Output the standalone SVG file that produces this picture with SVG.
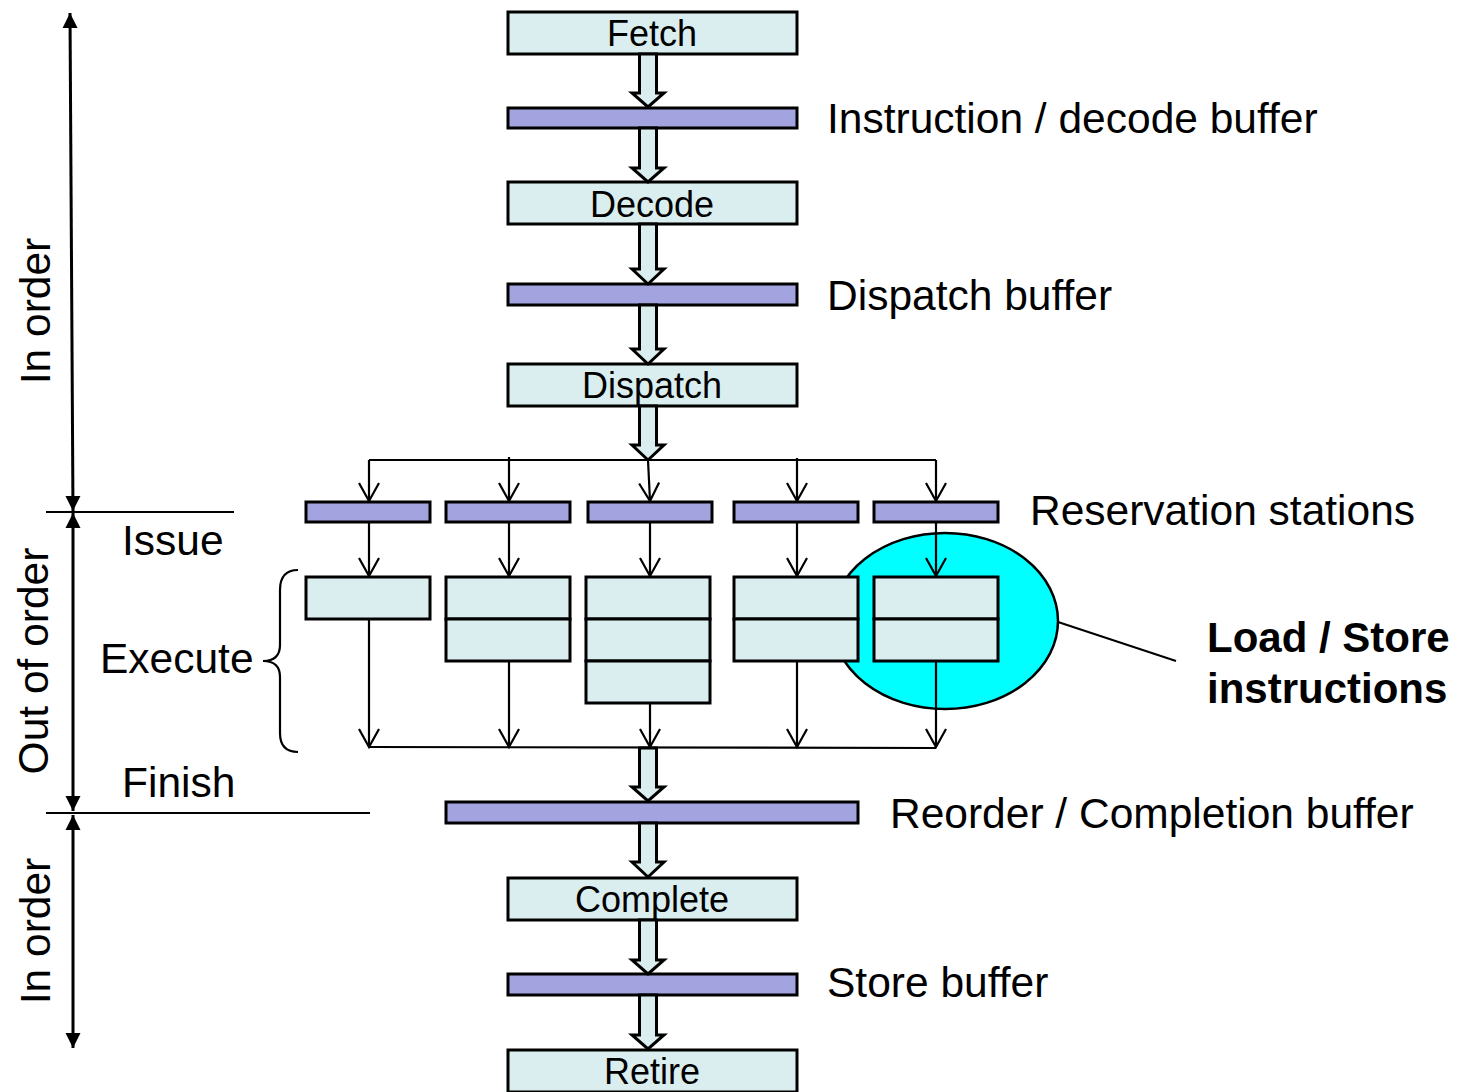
<svg xmlns="http://www.w3.org/2000/svg" width="1459" height="1092" viewBox="0 0 1459 1092">
<style>
text{font-family:"Liberation Sans",Arial,sans-serif;fill:#000}
.box{fill:#DAEDEF;stroke:#000;stroke-width:3}
.buf{fill:#A3A3DF;stroke:#000;stroke-width:3}
.big{stroke:#000;stroke-width:3;fill:#DAEDEF;stroke-linejoin:miter}
.ln{stroke:#000;stroke-width:2.2;fill:none}
.dim{stroke:#000;stroke-width:3;fill:none}
.t36{font-size:36px;text-anchor:middle}
.t42{font-size:42.5px}
.bold{font-size:42px;font-weight:bold}
</style>
<defs>
<marker id="v" markerUnits="userSpaceOnUse" markerWidth="20" markerHeight="22" refX="18" refY="10" orient="auto" overflow="visible">
<path d="M0,0 L18,10 L0,20" fill="none" stroke="#000" stroke-width="2.2"/>
</marker>
<marker id="tri" markerUnits="userSpaceOnUse" markerWidth="16" markerHeight="16" refX="15" refY="7.5" orient="auto-start-reverse" overflow="visible">
<path d="M0,0 L15,7.5 L0,15 z" fill="#000"/>
</marker>
</defs>

<rect width="1459" height="1092" fill="#fff"/>

<g id="ellipse-ls">
<ellipse cx="945" cy="621" rx="113" ry="88" fill="#00FFFF" stroke="#000" stroke-width="2.5"/>
<line x1="1058" y1="622" x2="1176" y2="661" stroke="#000" stroke-width="2"/>
</g>

<g id="fetch"><rect class="box" x="508" y="12" width="289" height="42"/><text class="t36" x="652" y="46">Fetch</text></g>
<g id="ibuf"><rect class="buf" x="508" y="108" width="289" height="20"/></g>
<g id="decode"><rect class="box" x="508" y="182" width="289" height="42"/><text class="t36" x="652" y="217">Decode</text></g>
<g id="dbuf"><rect class="buf" x="508" y="284" width="289" height="21"/></g>
<g id="dispatch"><rect class="box" x="508" y="364" width="289" height="42"/><text class="t36" x="652" y="398">Dispatch</text></g>

<g id="rs1"><rect class="buf" x="306" y="502" width="124" height="20"/></g>
<g id="rs2"><rect class="buf" x="446" y="502" width="124" height="20"/></g>
<g id="rs3"><rect class="buf" x="588" y="502" width="124" height="20"/></g>
<g id="rs4"><rect class="buf" x="734" y="502" width="124" height="20"/></g>
<g id="rs5"><rect class="buf" x="874" y="502" width="124" height="20"/></g>

<g id="ex1"><rect class="box" x="306" y="577" width="124" height="42"/></g>
<g id="ex2"><rect class="box" x="446" y="577" width="124" height="42"/><rect class="box" x="446" y="619" width="124" height="42"/></g>
<g id="ex3"><rect class="box" x="586" y="577" width="124" height="42"/><rect class="box" x="586" y="619" width="124" height="42"/><rect class="box" x="586" y="661" width="124" height="42"/></g>
<g id="ex4"><rect class="box" x="734" y="577" width="124" height="42"/><rect class="box" x="734" y="619" width="124" height="42"/></g>
<g id="ex5"><rect class="box" x="874" y="577" width="124" height="42"/><rect class="box" x="874" y="619" width="124" height="42"/></g>

<g id="rob"><rect class="buf" x="446" y="802" width="412" height="21"/></g>
<g id="complete"><rect class="box" x="508" y="878" width="289" height="42"/><text class="t36" x="652" y="912">Complete</text></g>
<g id="sbuf"><rect class="buf" x="508" y="974" width="289" height="21"/></g>
<g id="retire"><rect class="box" x="508" y="1050" width="289" height="42"/><text class="t36" x="652" y="1084">Retire</text></g>

<g id="connectors">
<polygon class="big" points="639.5,54 656.5,54 656.5,93 664,93 648,107 632,93 639.5,93"/>
<polygon class="big" points="639.5,128 656.5,128 656.5,168 664,168 648,182 632,168 639.5,168"/>
<polygon class="big" points="639.5,224 656.5,224 656.5,269 664,269 648,284 632,269 639.5,269"/>
<polygon class="big" points="639.5,305 656.5,305 656.5,349 664,349 648,364 632,349 639.5,349"/>
<polygon class="big" points="639.5,406 656.5,406 656.5,445 664,445 648,460 632,445 639.5,445"/>
<polygon class="big" points="639.5,748 656.5,748 656.5,787 664,787 648,801 632,787 639.5,787"/>
<polygon class="big" points="639.5,823 656.5,823 656.5,862 664,862 648,877 632,862 639.5,862"/>
<polygon class="big" points="639.5,920 656.5,920 656.5,960 664,960 648,974 632,960 639.5,960"/>
<polygon class="big" points="639.5,995 656.5,995 656.5,1035 664,1035 648,1049 632,1035 639.5,1035"/>
<line class="ln" x1="369" y1="460" x2="936" y2="460"/>
<line class="ln" x1="369" y1="460" x2="369" y2="501" marker-end="url(#v)"/>
<line class="ln" x1="509" y1="457" x2="509" y2="501" marker-end="url(#v)"/>
<line class="ln" x1="648" y1="460" x2="650" y2="501" marker-end="url(#v)"/>
<line class="ln" x1="797" y1="458" x2="797" y2="501" marker-end="url(#v)"/>
<line class="ln" x1="936" y1="460" x2="936" y2="501" marker-end="url(#v)"/>
<line class="ln" x1="369" y1="522" x2="369" y2="576" marker-end="url(#v)"/>
<line class="ln" x1="509" y1="522" x2="509" y2="576" marker-end="url(#v)"/>
<line class="ln" x1="650" y1="522" x2="650" y2="576" marker-end="url(#v)"/>
<line class="ln" x1="797" y1="522" x2="797" y2="576" marker-end="url(#v)"/>
<line class="ln" x1="936" y1="522" x2="936" y2="576" marker-end="url(#v)"/>
<line class="ln" x1="369" y1="619" x2="369" y2="747" marker-end="url(#v)"/>
<line class="ln" x1="509" y1="661" x2="509" y2="747" marker-end="url(#v)"/>
<line class="ln" x1="650" y1="703" x2="650" y2="747" marker-end="url(#v)"/>
<line class="ln" x1="797" y1="661" x2="797" y2="747" marker-end="url(#v)"/>
<line class="ln" x1="936" y1="661" x2="936" y2="747" marker-end="url(#v)"/>
<line class="ln" x1="369" y1="747" x2="936" y2="748"/>
</g>

<g id="labels">
<text class="t42" x="827" y="133">Instruction / decode buffer</text>
<text class="t42" x="827" y="310">Dispatch buffer</text>
<text class="t42" x="1030" y="525">Reservation stations</text>
<text class="t42" x="890" y="828">Reorder / Completion buffer</text>
<text class="t42" x="827" y="997">Store buffer</text>
<text class="bold" x="1207" y="652">Load / Store</text>
<text class="bold" x="1207" y="703">instructions</text>
<text class="t42" x="122" y="555">Issue</text>
<text class="t42" x="100" y="673">Execute</text>
<text class="t42" x="122" y="797">Finish</text>
<text class="t42" text-anchor="middle" transform="translate(50,311) rotate(-90)">In order</text>
<text class="t42" text-anchor="middle" transform="translate(48,661) rotate(-90)">Out of order</text>
<text class="t42" text-anchor="middle" transform="translate(50,931) rotate(-90)">In order</text>
</g>

<g id="phases">
<line class="dim" x1="70" y1="13" x2="73" y2="511" marker-start="url(#tri)" marker-end="url(#tri)"/>
<line class="dim" x1="73" y1="513" x2="73" y2="811" marker-start="url(#tri)" marker-end="url(#tri)"/>
<line class="dim" x1="73" y1="815" x2="73" y2="1048" marker-start="url(#tri)" marker-end="url(#tri)"/>
<line x1="46" y1="512" x2="234" y2="512" stroke="#000" stroke-width="2"/>
<line x1="46" y1="813" x2="370" y2="813" stroke="#000" stroke-width="2"/>
<path class="ln" d="M298,570 Q280,570 280,590 L280,645 Q280,661 263,661 Q280,661 280,677 L280,733 Q280,752 298,752"/>
</g>
</svg>
